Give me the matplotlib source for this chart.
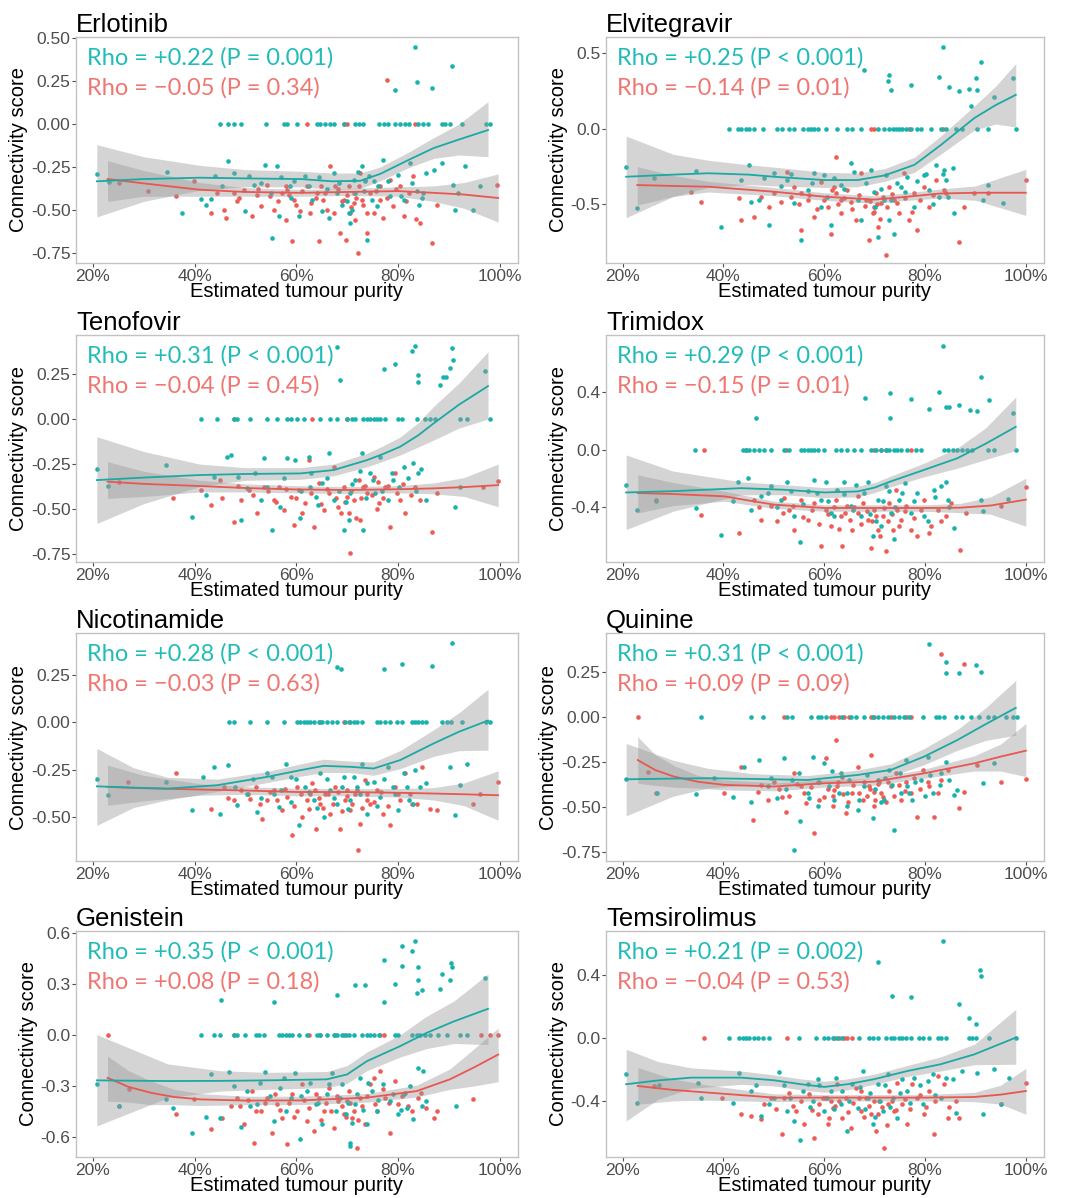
import numpy as np
import matplotlib.pyplot as plt

# ---------------- data ----------------
# points are (purity %, connectivity score); *_zero are purities of points sitting at score 0
erl_teal = [(83.4,0.448),(90.7,0.339),(79.4,0.196),(83.8,0.242),(86.6,0.209),
    (20.8,-0.289),(23.1,-0.339),(34.5,-0.281),(37.6,-0.517),(41.2,-0.436),(42.2,-0.469),(43.2,-0.436),
    (46.5,-0.217),(47.8,-0.285),(50.0,-0.508),(53.8,-0.237),(55.3,-0.663),(56.3,-0.246),(56.6,-0.537),
    (59.5,-0.333),(60.5,-0.537),(61.8,-0.304),(63.1,-0.44),(65.1,-0.508),(66.4,-0.547),(67.4,-0.285),
    (69.0,-0.469),(70.3,-0.517),(70.6,-0.576),(71.6,-0.401),(72.9,-0.246),(73.6,-0.333),(73.9,-0.673),
    (74.9,-0.44),(75.8,-0.479),(77.1,-0.207),(78.5,-0.421),(80.1,-0.295),(81.1,-0.44),(82.4,-0.227),
    (83.7,-0.392),(84.7,-0.43),(85.6,-0.285),(87.0,-0.266),(88.6,-0.227),(90.9,-0.353),(91.2,-0.498),
    (93.1,-0.246),(96.1,-0.362),(94.8,-0.498),(91.9,-0.401),(51.7,-0.353),(58.8,-0.362),(68.0,-0.401),
    (71.3,-0.324),(75.3,-0.333),
    (50.8,-0.30),(53.0,-0.34),(55.0,-0.40),(57.0,-0.31),(59.0,-0.43),(62.5,-0.36),(64.5,-0.31),(66.0,-0.38),
    (68.5,-0.34),(70.0,-0.45),(71.0,-0.50),(72.2,-0.28),(73.4,-0.39),(74.4,-0.30),(76.0,-0.36),(78.0,-0.33),
    (80.6,-0.42),(82.8,-0.34),(84.2,-0.47),(85.0,-0.40),(44.0,-0.30),(45.5,-0.36)]
erl_teal_zero = [45.1,46.5,47.8,49.1,54.0,57.6,58.2,60.2,64.1,64.7,65.7,66.7,67.4,69.3,71.6,72.3,73.2,
    76.2,77.2,78.1,79.4,80.4,81.4,82.1,84.0,85.0,86.0,88.6,89.2,90.2,92.5,97.4,98.1]
erl_red = [(77.8,0.258),
    (25.2,-0.343),(30.8,-0.392),(36.3,-0.421),(39.9,-0.333),(43.2,-0.517),(45.8,-0.498),(46.1,-0.547),
    (47.8,-0.401),(48.4,-0.45),(49.7,-0.382),(51.4,-0.537),(52.3,-0.411),(53.0,-0.479),(54.3,-0.353),
    (55.6,-0.498),(57.2,-0.401),(57.9,-0.556),(59.2,-0.682),(59.5,-0.44),(60.8,-0.508),(62.1,-0.362),
    (62.8,-0.517),(63.8,-0.43),(64.4,-0.682),(65.7,-0.401),(66.7,-0.246),(67.7,-0.362),(68.7,-0.634),
    (69.3,-0.44),(69.7,-0.673),(70.3,-0.362),(70.6,-0.517),(71.3,-0.459),(71.6,-0.556),(72.1,-0.75),
    (72.6,-0.285),(72.9,-0.44),(73.9,-0.634),(74.5,-0.401),(75.2,-0.517),(76.5,-0.362),(77.1,-0.547),
    (78.5,-0.324),(79.1,-0.479),(80.4,-0.362),(81.1,-0.537),(82.1,-0.401),(83.0,-0.304),(84.3,-0.576),
    (86.6,-0.692),(87.6,-0.469),(67.4,-0.517),(64.8,-0.362),(71.3,-0.401),(73.6,-0.324),(58.2,-0.382),
    (76.5,-0.44),(99.5,-0.355),
    (52.5,-0.38),(54.8,-0.42),(56.5,-0.45),(58.5,-0.41),(60.0,-0.47),(61.2,-0.39),(63.0,-0.46),(64.0,-0.40),
    (65.2,-0.44),(66.0,-0.50),(68.2,-0.38),(69.0,-0.45),(70.0,-0.41),(70.8,-0.48),(71.8,-0.43),(72.4,-0.36),
    (73.2,-0.47),(74.0,-0.52),(75.6,-0.39),(77.8,-0.43),(79.6,-0.38),(81.6,-0.45),(83.6,-0.55),(48.8,-0.43),
    (44.5,-0.40),(58.0,-0.36)]
erl_red_zero = [62.1,69.3,70.0,83.4]
# loess fits: (purity, fit, lower, upper)
erl_teal_fit = [(20.8,-0.333,-0.54,-0.12),(30,-0.32,-0.45,-0.19),(41,-0.312,-0.385,-0.24),(50,-0.316,-0.365,-0.265),
    (61,-0.32,-0.365,-0.275),(67,-0.333,-0.38,-0.285),(72.6,-0.33,-0.375,-0.285),(76.5,-0.29,-0.33,-0.25),
    (82,-0.21,-0.255,-0.165),(87,-0.14,-0.2,-0.08),(92,-0.09,-0.18,0.0),(97.7,-0.035,-0.19,0.13)]
erl_red_fit = [(22.9,-0.32,-0.45,-0.213),(30,-0.345,-0.42,-0.27),(41,-0.382,-0.42,-0.34),(50,-0.395,-0.42,-0.37),
    (61,-0.40,-0.42,-0.38),(70,-0.395,-0.415,-0.375),(80,-0.39,-0.42,-0.365),(87,-0.40,-0.45,-0.36),
    (93,-0.41,-0.49,-0.34),(99.7,-0.43,-0.57,-0.29)]

elv_teal = [(83.5,0.54),(67.9,0.389),(72.9,0.356),(72.6,0.312),(73.2,0.257),(77.2,0.29),(82.8,0.341),
    (84.8,0.274),(86.8,0.246),(88.8,0.261),(90.1,0.334),(91.1,0.438),(89.1,0.146),(90.4,0.257),(93.7,0.212),
    (97.4,0.334),
    (20.7,-0.257),(22.8,-0.529),(26.3,-0.33),(34.5,-0.279),(39.5,-0.65),(43.5,-0.341),(45.1,-0.241),
    (45.5,-0.485),(47.1,-0.473),(49.1,-0.639),(50.1,-0.296),(52.7,-0.341),(54.0,-0.496),(55.4,-0.735),
    (56.7,-0.407),(58.0,-0.296),(59.3,-0.518),(60.0,-0.307),(61.3,-0.639),(63.3,-0.374),(65.3,-0.23),
    (66.6,-0.473),(67.3,-0.606),(69.3,-0.274),(69.9,-0.418),(70.6,-0.717),(71.9,-0.473),(72.9,-0.606),
    (73.9,-0.695),(75.2,-0.385),(76.5,-0.319),(77.9,-0.518),(79.8,-0.307),(80.8,-0.407),(82.2,-0.241),
    (83.8,-0.274),(84.1,-0.341),(85.5,-0.263),(85.8,-0.562),(91.4,-0.473),(95.4,-0.496),(92.4,-0.374),
    (82.8,-0.451),
    (48.0,-0.33),(51.5,-0.38),(53.5,-0.30),(57.5,-0.36),(60.5,-0.45),(62.0,-0.33),(64.0,-0.40),(66.0,-0.29),
    (68.2,-0.36),(70.0,-0.52),(71.2,-0.40),(72.2,-0.31),(73.3,-0.47),(74.5,-0.36),(76.0,-0.42),(78.5,-0.35),
    (80.2,-0.30),(81.5,-0.50),(83.5,-0.30),(84.6,-0.45)]
elv_teal_zero = [41.2,42.8,43.5,44.5,45.1,46.1,47.8,50.7,51.7,53.1,54.0,55.7,56.7,57.4,58.0,58.7,60.3,
    62.6,64.6,65.6,67.3,70.6,71.9,72.9,73.6,74.2,74.9,75.5,76.2,77.2,78.5,79.2,81.2,83.1,84.1,86.1,87.4,
    90.4,92.4,98.0]
elv_red = [(62.3,-0.186),
    (33.6,-0.418),(35.5,-0.485),(43.1,-0.462),(43.5,-0.606),(46.1,-0.584),(50.1,-0.429),(51.4,-0.485),
    (52.7,-0.285),(54.0,-0.385),(55.4,-0.672),(56.7,-0.473),(58.0,-0.584),(59.3,-0.352),(60.7,-0.518),
    (61.3,-0.695),(62.3,-0.429),(63.3,-0.562),(64.6,-0.407),(65.3,-0.485),(66.3,-0.606),(67.3,-0.296),
    (68.3,-0.473),(68.9,-0.739),(69.6,-0.562),(70.2,-0.429),(70.6,-0.65),(71.3,-0.496),(72.2,-0.839),
    (72.9,-0.385),(73.9,-0.473),(74.9,-0.562),(75.9,-0.296),(76.9,-0.606),(77.9,-0.429),(78.5,-0.672),
    (79.8,-0.385),(80.8,-0.518),(82.2,-0.341),(84.1,-0.429),(86.8,-0.75),(87.8,-0.518),(89.8,-0.429),
    (92.4,-0.425),(100,-0.341),(55.4,-0.429),(63.3,-0.473),(69.9,-0.518),(62.0,-0.385),
    (53.5,-0.45),(55.0,-0.50),(57.0,-0.44),(58.5,-0.53),(60.0,-0.47),(61.5,-0.41),(62.8,-0.50),(64.0,-0.46),
    (65.5,-0.53),(66.8,-0.44),(68.0,-0.51),(69.0,-0.48),(69.8,-0.55),(70.4,-0.50),(71.0,-0.60),(71.6,-0.45),
    (72.5,-0.52),(73.5,-0.43),(74.5,-0.49),(76.0,-0.46),(77.5,-0.55),(79.0,-0.47),(81.5,-0.44),(83.8,-0.41),
    (47.5,-0.45),(49.0,-0.52)]
elv_red_zero = [69.3,69.9,76.9,83.5]
elv_teal_fit = [(20.7,-0.319,-0.59,-0.05),(30,-0.305,-0.45,-0.17),(37,-0.296,-0.39,-0.21),(45,-0.305,-0.37,-0.24),
    (50,-0.319,-0.38,-0.255),(60,-0.341,-0.39,-0.29),(66.6,-0.341,-0.385,-0.295),(72,-0.31,-0.35,-0.265),
    (77.9,-0.24,-0.29,-0.19),(83.1,-0.11,-0.17,-0.05),(89.8,0.07,-0.01,0.15),(94,0.155,0.03,0.28),
    (98,0.223,0.01,0.43)]
elv_red_fit = [(22.9,-0.374,-0.507,-0.252),(30,-0.38,-0.45,-0.31),(37,-0.385,-0.42,-0.35),(50,-0.418,-0.445,-0.39),
    (60,-0.451,-0.475,-0.425),(70,-0.47,-0.495,-0.445),(76.5,-0.451,-0.475,-0.425),(83,-0.43,-0.46,-0.40),
    (90,-0.425,-0.475,-0.38),(100,-0.425,-0.575,-0.27)]

ten_teal = [(68.0,0.398),(83.4,0.407),(82.7,0.38),(90.7,0.393),(90.9,0.328),(90.2,0.281),(88.9,0.235),
    (88.3,0.189),(84.0,0.244),(84.0,0.207),(77.2,0.276),(79.4,0.306),(68.7,0.217),(97.1,0.269),(89.5,0.231),
    (20.8,-0.28),(22.9,-0.372),(34.4,-0.256),(39.6,-0.543),(42.2,-0.422),(43.8,-0.32),(46.4,-0.209),
    (47.1,-0.2),(49.1,-0.561),(50.4,-0.385),(53.6,-0.218),(55.3,-0.617),(56.9,-0.487),(58.2,-0.218),
    (59.8,-0.228),(60.8,-0.552),(62.5,-0.209),(63.8,-0.431),(65.1,-0.357),(66.4,-0.191),(67.4,-0.45),
    (69.3,-0.617),(70.3,-0.561),(71.6,-0.339),(72.9,-0.191),(73.2,-0.617),(74.5,-0.302),(75.5,-0.413),
    (76.5,-0.209),(78.1,-0.45),(79.1,-0.339),(81.1,-0.265),(83.0,-0.246),(84.0,-0.302),(85.6,-0.45),
    (91.2,-0.487),(92.2,-0.376),(53.0,-0.45),(62.8,-0.376),(70.6,-0.413),
    (48.5,-0.32),(51.8,-0.30),(54.2,-0.38),(57.5,-0.33),(61.0,-0.40),(63.0,-0.30),(64.2,-0.48),(66.0,-0.33),
    (68.5,-0.40),(69.8,-0.46),(71.0,-0.36),(72.5,-0.29),(73.8,-0.44),(75.0,-0.34),(76.8,-0.40),(78.8,-0.30),
    (80.2,-0.38),(82.0,-0.33),(83.5,-0.40),(84.5,-0.28)]
ten_teal_zero = [41.2,44.5,47.8,48.4,51.0,54.3,56.3,58.2,58.9,60.2,61.5,64.7,66.7,68.0,70.0,71.0,71.6,
    73.2,73.9,74.5,75.2,75.8,76.5,77.5,80.1,80.7,83.7,85.3,86.3,87.3,92.2,93.5,98.1]
ten_red = [(25.2,-0.348),(35.7,-0.441),(41.2,-0.394),(43.2,-0.478),(45.1,-0.339),(47.8,-0.57),(49.1,-0.45),
    (50.7,-0.394),(52.3,-0.524),(53.6,-0.376),(55.6,-0.45),(56.6,-0.376),(57.6,-0.506),(59.5,-0.589),
    (60.5,-0.394),(61.8,-0.469),(62.5,-0.228),(63.4,-0.598),(64.4,-0.357),(65.4,-0.506),(66.4,-0.413),
    (67.4,-0.265),(68.3,-0.487),(69.3,-0.376),(70.3,-0.524),(70.5,-0.746),(71.3,-0.45),(72.3,-0.339),
    (72.6,-0.561),(73.9,-0.413),(75.2,-0.32),(76.2,-0.469),(77.5,-0.376),(78.5,-0.598),(79.4,-0.302),
    (80.4,-0.45),(81.4,-0.524),(83.4,-0.376),(84.3,-0.45),(86.7,-0.626),(87.6,-0.413),(99.7,-0.344),
    (96.7,-0.376),(58.9,-0.431),(70.0,-0.431),(73.2,-0.376),
    (51.5,-0.42),(54.5,-0.40),(56.0,-0.46),(58.0,-0.39),(60.0,-0.44),(61.2,-0.52),(63.0,-0.41),(64.8,-0.47),
    (66.0,-0.39),(67.8,-0.44),(68.8,-0.52),(69.6,-0.46),(70.8,-0.40),(71.8,-0.55),(72.8,-0.44),(73.6,-0.37),
    (74.8,-0.42),(76.0,-0.35),(77.0,-0.44),(78.0,-0.37),(79.8,-0.41),(81.0,-0.36),(82.5,-0.42),(45.5,-0.44),
    (48.5,-0.37),(75.8,-0.50)]
ten_red_zero = [47.8,63.1,70.0]
ten_teal_fit = [(20.8,-0.339,-0.58,-0.098),(30,-0.325,-0.47,-0.18),(41,-0.311,-0.375,-0.25),(50,-0.305,-0.34,-0.27),
    (60.8,-0.302,-0.335,-0.27),(67.4,-0.283,-0.315,-0.25),(73.9,-0.228,-0.265,-0.19),(77,-0.195,-0.235,-0.15),
    (80.4,-0.154,-0.2,-0.1),(84,-0.09,-0.155,-0.02),(87,-0.024,-0.117,0.07),(92,0.08,-0.05,0.2),(97.7,0.183,0.0,0.374)]
ten_red_fit = [(22.9,-0.348,-0.441,-0.237),(30,-0.36,-0.43,-0.29),(41,-0.372,-0.405,-0.34),(50,-0.383,-0.405,-0.36),
    (60,-0.391,-0.41,-0.37),(70,-0.394,-0.413,-0.375),(80,-0.39,-0.41,-0.37),(87,-0.385,-0.415,-0.355),
    (93,-0.378,-0.43,-0.325),(99.7,-0.367,-0.487,-0.25)]

tri_teal = [(83.5,0.718),(91.1,0.508),(46.4,0.222),(68.1,0.361),(73.1,0.393),(73.1,0.216),(77.2,0.354),
    (80.7,0.285),(82.7,0.4),(84.1,0.296),(84.8,0.296),(86.8,0.312),(89.0,0.273),(90.4,0.269),(92.7,0.347),
    (97.4,0.255),
    (20.7,-0.246),(22.8,-0.423),(26.6,-0.356),(34.5,-0.407),(39.5,-0.598),(41.8,-0.361),(42.8,-0.223),
    (44.8,-0.2),(45.5,-0.423),(47.4,-0.326),(49.4,-0.257),(51.4,-0.349),(52.7,-0.223),(54.0,-0.465),
    (55.2,-0.644),(56.7,-0.292),(58.0,-0.211),(59.3,-0.349),(60.3,-0.223),(61.3,-0.442),(62.6,-0.28),
    (63.9,-0.223),(65.3,-0.395),(66.3,-0.246),(67.3,-0.465),(68.6,-0.223),(69.6,-0.603),(70.6,-0.349),
    (71.2,-0.534),(72.2,-0.257),(73.2,-0.442),(73.9,-0.626),(74.9,-0.349),(76.0,-0.234),(77.2,-0.442),
    (78.5,-0.303),(80.5,-0.499),(81.8,-0.28),(83.1,-0.257),(84.1,-0.223),(84.5,-0.349),(85.8,-0.545),
    (91.1,-0.349),(91.4,-0.43),(96.4,-0.345),
    (48.8,-0.30),(50.6,-0.40),(53.5,-0.29),(55.8,-0.38),(58.6,-0.30),(60.8,-0.36),(62.0,-0.46),(64.0,-0.31),
    (65.8,-0.42),(67.8,-0.30),(69.0,-0.45),(70.2,-0.50),(71.6,-0.36),(72.8,-0.29),(74.0,-0.40),(75.5,-0.30),
    (77.8,-0.36),(79.8,-0.46),(82.0,-0.33),(84.8,-0.40)]
tri_teal_zero = [34.3,43.8,44.5,45.1,46.1,47.1,48.1,49.4,52.1,53.1,55.4,56.0,56.7,57.4,58.0,58.7,60.0,
    62.3,63.3,64.6,66.0,67.3,69.3,70.2,71.2,72.2,72.9,73.9,74.5,75.2,76.5,78.2,79.2,83.8,84.5,85.5,86.4,
    87.4,88.4,89.4,92.4,93.7,98.0]
tri_red = [(26.6,-0.349),(35.5,-0.453),(43.1,-0.58),(46.1,-0.349),(47.4,-0.488),(49.4,-0.396),(50.7,-0.499),
    (52.1,-0.338),(53.1,-0.419),(54.0,-0.557),(55.4,-0.349),(56.7,-0.488),(58.0,-0.372),(59.3,-0.672),
    (60.3,-0.419),(61.3,-0.534),(62.3,-0.349),(63.3,-0.465),(63.6,-0.672),(64.6,-0.396),(65.6,-0.557),
    (66.6,-0.442),(67.6,-0.372),(68.6,-0.488),(69.3,-0.684),(69.9,-0.419),(70.6,-0.557),(71.6,-0.465),
    (72.2,-0.707),(72.9,-0.372),(73.6,-0.557),(74.2,-0.28),(75.2,-0.488),(76.2,-0.396),(77.2,-0.557),
    (78.5,-0.603),(79.8,-0.349),(81.2,-0.534),(82.5,-0.419),(84.1,-0.465),(85.1,-0.372),(86.9,-0.7),
    (88.1,-0.442),(95.0,-0.396),(100,-0.262),(66.6,-0.326),(74.5,-0.419),
    (51.8,-0.44),(53.8,-0.39),(55.8,-0.47),(57.5,-0.42),(59.0,-0.52),(60.8,-0.45),(62.0,-0.40),(63.0,-0.55),
    (64.2,-0.44),(65.2,-0.49),(66.0,-0.40),(67.2,-0.52),(68.4,-0.43),(69.4,-0.50),(70.2,-0.46),(71.0,-0.60),
    (71.8,-0.41),(72.6,-0.50),(73.4,-0.45),(74.8,-0.53),(76.0,-0.43),(77.8,-0.48),(79.2,-0.42),(80.8,-0.58),
    (83.2,-0.50),(47.0,-0.40)]
tri_red_zero = [36.2,44.5,52.4,69.9,71.2,72.2,77.2]
tri_teal_fit = [(20.7,-0.299,-0.557,-0.038),(30,-0.29,-0.43,-0.15),(43.5,-0.269,-0.315,-0.225),(52,-0.28,-0.315,-0.245),
    (60,-0.299,-0.335,-0.265),(66.6,-0.292,-0.33,-0.255),(70,-0.265,-0.3,-0.23),(73.2,-0.222,-0.26,-0.185),
    (79.8,-0.142,-0.19,-0.095),(86.4,-0.061,-0.13,0.01),(92,0.04,-0.07,0.15),(98,0.158,-0.007,0.365)]
tri_red_fit = [(23,-0.303,-0.442,-0.176),(30,-0.31,-0.39,-0.23),(40.2,-0.326,-0.36,-0.29),(45,-0.355,-0.385,-0.325),
    (50.1,-0.384,-0.41,-0.36),(60,-0.407,-0.43,-0.385),(70,-0.407,-0.43,-0.385),(80,-0.407,-0.43,-0.385),
    (87,-0.405,-0.44,-0.375),(93,-0.39,-0.45,-0.33),(100,-0.349,-0.534,-0.2)]

nic_teal = [(90.7,0.418),(68.0,0.294),(68.8,0.28),(77.2,0.282),(80.7,0.308),(86.6,0.298),
    (20.8,-0.297),(22.9,-0.385),(34.4,-0.315),(39.6,-0.465),(41.6,-0.288),(43.8,-0.235),(45.1,-0.482),
    (46.5,-0.226),(48.4,-0.438),(50.4,-0.376),(52.3,-0.474),(54.3,-0.27),(55.6,-0.376),(56.6,-0.447),
    (57.9,-0.218),(58.9,-0.288),(60.5,-0.544),(61.8,-0.341),(63.4,-0.412),(64.7,-0.27),(65.4,-0.5),
    (66.7,-0.359),(68.0,-0.429),(69.3,-0.288),(70.6,-0.412),(71.9,-0.341),(72.9,-0.218),(73.9,-0.482),
    (75.2,-0.315),(76.5,-0.394),(78.1,-0.235),(79.1,-0.341),(80.1,-0.465),(81.1,-0.27),(82.1,-0.412),
    (83.4,-0.253),(84.3,-0.341),(85.6,-0.323),(90.2,-0.235),(91.2,-0.491),(92.2,-0.332),(93.5,-0.221),
    (48.0,-0.34),(51.5,-0.30),(53.0,-0.40),(55.2,-0.29),(57.0,-0.36),(59.0,-0.42),(60.0,-0.30),(62.5,-0.37),
    (64.0,-0.45),(66.0,-0.30),(67.5,-0.40),(69.0,-0.34),(70.2,-0.46),(71.3,-0.29),(72.5,-0.38),(74.0,-0.32),
    (75.8,-0.44),(77.2,-0.30),(79.5,-0.38),(81.8,-0.34),(83.0,-0.43)]
nic_teal_zero = [46.8,47.8,51.0,54.3,57.6,60.2,60.8,61.5,62.1,62.8,63.4,64.4,65.1,66.0,67.0,68.0,69.6,
    70.6,71.3,71.9,72.9,75.8,76.5,77.5,78.5,79.8,80.7,82.7,83.4,84.0,84.7,85.6,88.6,89.6,90.5,92.5,97.4,98.1]
nic_red = [(26.9,-0.315),(36.3,-0.267),(43.2,-0.456),(45.8,-0.341),(47.8,-0.412),(49.1,-0.359),(51.0,-0.403),
    (52.0,-0.341),(53.3,-0.509),(54.3,-0.412),(55.6,-0.359),(57.2,-0.465),(58.2,-0.394),(59.2,-0.597),
    (60.2,-0.341),(61.2,-0.5),(62.1,-0.412),(63.1,-0.323),(63.8,-0.562),(64.7,-0.429),(65.7,-0.376),
    (66.7,-0.482),(67.7,-0.341),(68.7,-0.562),(69.6,-0.412),(70.6,-0.465),(71.6,-0.376),(72.1,-0.676),
    (72.6,-0.535),(73.6,-0.306),(74.5,-0.429),(75.8,-0.359),(77.1,-0.482),(78.5,-0.544),(79.4,-0.341),
    (80.4,-0.412),(81.4,-0.27),(82.4,-0.376),(83.7,-0.429),(84.7,-0.235),(86.3,-0.456),(87.6,-0.465),
    (99.7,-0.315),(94.8,-0.429),(96.1,-0.376),(62.8,-0.376),(69.9,-0.359),(73.9,-0.412),
    (50.5,-0.38),(52.8,-0.43),(54.8,-0.37),(56.2,-0.41),(57.8,-0.35),(59.5,-0.44),(61.0,-0.38),(62.5,-0.46),
    (63.6,-0.36),(64.4,-0.40),(65.2,-0.45),(66.2,-0.38),(67.2,-0.43),(68.2,-0.37),(69.0,-0.47),(70.0,-0.39),
    (71.0,-0.43),(72.0,-0.36),(73.0,-0.45),(74.0,-0.38),(75.2,-0.42),(76.6,-0.37),(78.0,-0.44),(80.0,-0.38),
    (82.8,-0.43),(46.5,-0.40)]
nic_red_zero = [64.7,69.3,70.3]
nic_teal_fit = [(20.8,-0.338,-0.544,-0.138),(28,-0.345,-0.45,-0.24),(34.7,-0.35,-0.41,-0.29),(44.5,-0.332,-0.365,-0.30),
    (54.3,-0.288,-0.318,-0.26),(60.8,-0.253,-0.285,-0.22),(65.4,-0.23,-0.265,-0.195),(70.6,-0.235,-0.265,-0.205),
    (75.2,-0.244,-0.28,-0.21),(80.4,-0.2,-0.245,-0.15),(87,-0.112,-0.18,-0.04),(92,-0.05,-0.15,0.05),
    (97.7,0.009,-0.147,0.174)]
nic_red_fit = [(22.9,-0.341,-0.438,-0.226),(30,-0.348,-0.415,-0.28),(41.2,-0.355,-0.385,-0.325),(50,-0.36,-0.38,-0.34),
    (60,-0.368,-0.388,-0.348),(70,-0.368,-0.388,-0.35),(80,-0.372,-0.395,-0.35),(87,-0.376,-0.41,-0.345),
    (93,-0.38,-0.44,-0.32),(99.7,-0.385,-0.517,-0.256)]

qui_teal = [(80.8,0.407),(84.1,0.305),(84.1,0.244),(86.8,0.244),(90.1,0.287),(91.1,0.25),
    (20.7,-0.346),(26.9,-0.423),(34.5,-0.427),(38.2,-0.34),(41.8,-0.442),(44.1,-0.276),(45.5,-0.47),
    (47.1,-0.239),(48.8,-0.386),(50.7,-0.451),(52.1,-0.23),(53.7,-0.35),(55.2,-0.58),(54.0,-0.737),
    (56.7,-0.423),(57.7,-0.221),(58.7,-0.497),(60.0,-0.257),(61.0,-0.386),(62.0,-0.46),(63.3,-0.313),
    (64.6,-0.423),(66.6,-0.516),(67.9,-0.386),(69.6,-0.562),(70.6,-0.35),(71.9,-0.46),(72.9,-0.294),
    (73.9,-0.627),(75.2,-0.423),(76.2,-0.239),(77.5,-0.46),(79.2,-0.35),(80.5,-0.221),(81.5,-0.423),
    (83.1,-0.313),(84.1,-0.248),(84.8,-0.35),(85.8,-0.432),(86.4,-0.405),(91.4,-0.364),(93.7,-0.257),
    (64.6,-0.497),(76.5,-0.386),
    (49.5,-0.34),(52.5,-0.40),(55.0,-0.31),(57.0,-0.45),(59.0,-0.36),(61.5,-0.30),(63.0,-0.42),(65.0,-0.35),
    (66.8,-0.46),(68.5,-0.32),(70.0,-0.40),(71.2,-0.47),(72.0,-0.34),(73.5,-0.38),(75.0,-0.31),(76.8,-0.42),
    (78.0,-0.36),(80.0,-0.44),(81.0,-0.32),(83.0,-0.38)]
qui_teal_zero = [35.5,45.5,47.8,52.7,53.7,57.4,58.7,59.3,60.3,63.6,65.3,66.3,67.9,69.6,70.6,71.6,72.6,
    73.9,74.9,75.9,76.9,79.5,82.1,82.8,83.8,86.1,87.4,89.1,90.7,92.4,93.7,96.0,97.4,98.3]
qui_red = [(83.1,0.351),(87.8,0.292),(62.3,-0.128),
    (25.0,-0.303),(26.6,-0.423),(40.2,-0.423),(43.5,-0.276),(45.8,-0.571),(46.8,-0.414),(48.8,-0.46),
    (50.1,-0.359),(51.7,-0.442),(52.4,-0.525),(54.0,-0.313),(55.4,-0.386),(56.4,-0.479),(58.0,-0.645),
    (58.7,-0.359),(60.0,-0.442),(60.3,-0.23),(61.7,-0.497),(62.6,-0.386),(63.6,-0.331),(64.3,-0.534),
    (65.6,-0.423),(66.6,-0.276),(67.6,-0.46),(68.9,-0.386),(69.3,-0.211),(69.9,-0.497),(70.9,-0.359),
    (71.6,-0.442),(72.2,-0.47),(73.2,-0.386),(74.2,-0.313),(75.2,-0.46),(76.2,-0.359),(77.2,-0.423),
    (78.5,-0.553),(79.5,-0.294),(80.8,-0.386),(81.8,-0.553),(83.1,-0.35),(84.5,-0.294),(86.8,-0.506),
    (87.8,-0.414),(95.0,-0.359),(100,-0.344),(90.4,-0.267),(69.9,-0.414),(62.0,-0.405),
    (51.0,-0.40),(53.0,-0.44),(54.6,-0.37),(56.0,-0.42),(57.4,-0.39),(59.0,-0.46),(60.8,-0.40),(61.8,-0.44),
    (62.8,-0.36),(63.8,-0.43),(64.8,-0.47),(65.8,-0.38),(66.8,-0.42),(67.8,-0.36),(68.4,-0.44),(69.0,-0.40),
    (70.0,-0.46),(70.6,-0.37),(71.2,-0.42),(72.6,-0.36),(73.8,-0.44),(74.8,-0.38),(76.0,-0.41),(77.8,-0.34),
    (79.0,-0.40),(80.5,-0.36),(82.5,-0.42),(47.5,-0.38)]
qui_red_zero = [23.0,52.1,61.3,62.0,63.0,64.0,65.0,69.3,69.9,73.2,76.2,77.2]
qui_teal_fit = [(20.7,-0.346,-0.549,-0.147),(30,-0.342,-0.44,-0.24),(36.9,-0.34,-0.395,-0.285),(46,-0.344,-0.375,-0.315),
    (56.7,-0.35,-0.375,-0.325),(66.6,-0.322,-0.35,-0.295),(73.2,-0.294,-0.33,-0.26),(79.8,-0.22,-0.265,-0.175),
    (86.4,-0.128,-0.185,-0.07),(92,-0.04,-0.13,0.05),(98,0.051,-0.101,0.204)]
qui_red_fit = [(23,-0.239,-0.368,-0.11),(26.5,-0.295,-0.38,-0.21),(30.2,-0.331,-0.39,-0.27),(35,-0.36,-0.395,-0.325),
    (40.2,-0.377,-0.405,-0.35),(50.1,-0.386,-0.41,-0.365),(60,-0.368,-0.39,-0.35),(69.9,-0.359,-0.378,-0.34),
    (79.8,-0.313,-0.34,-0.29),(89.8,-0.257,-0.3,-0.215),(95,-0.22,-0.3,-0.15),(100,-0.187,-0.331,-0.036)]

gen_teal = [(80.7,0.522),(82.7,0.492),(83.4,0.551),(77.2,0.443),(80.7,0.404),(84.0,0.398),(84.0,0.326),
    (79.4,0.3),(71.6,0.297),(73.6,0.297),(68.1,0.234),(77.2,0.195),(55.7,0.195),(45.3,0.205),(83.7,0.248),
    (84.7,0.267),(88.6,0.359),(90.5,0.424),(90.7,0.398),(90.2,0.326),(88.3,0.273),(97.1,0.336),
    (20.8,-0.287),(25.2,-0.418),(34.4,-0.379),(35.7,-0.428),(39.6,-0.575),(42.2,-0.481),(43.2,-0.228),
    (45.1,-0.487),(46.8,-0.216),(49.1,-0.541),(50.4,-0.33),(52.3,-0.408),(53.9,-0.216),(55.6,-0.506),
    (57.6,-0.252),(58.9,-0.369),(59.8,-0.222),(60.8,-0.614),(62.1,-0.33),(63.8,-0.408),(65.1,-0.526),
    (66.4,-0.291),(67.0,-0.222),(68.7,-0.369),(69.7,-0.467),(70.6,-0.633),(70.6,-0.653),(71.6,-0.408),
    (72.6,-0.252),(73.9,-0.526),(74.9,-0.33),(75.8,-0.447),(77.1,-0.291),(78.5,-0.389),(80.1,-0.467),
    (81.1,-0.349),(81.7,-0.428),(83.0,-0.496),(84.0,-0.193),(85.0,-0.212),(85.6,-0.389),(84.7,-0.418),
    (91.5,-0.418),
    (47.8,-0.30),(51.0,-0.42),(52.8,-0.28),(54.8,-0.36),(56.8,-0.31),(58.0,-0.45),(61.0,-0.36),(62.8,-0.28),
    (64.2,-0.40),(66.0,-0.35),(67.8,-0.45),(69.0,-0.29),(70.2,-0.40),(71.0,-0.52),(72.0,-0.35),(73.2,-0.44),
    (74.2,-0.28),(76.0,-0.38),(79.0,-0.35),(80.6,-0.44),(82.4,-0.30)]
gen_teal_zero = [41.2,43.8,45.1,47.8,48.4,50.0,52.0,52.7,53.6,56.6,57.2,57.9,58.5,59.2,60.5,62.1,64.1,
    64.7,66.0,67.4,68.0,69.0,69.7,70.3,71.3,72.9,73.9,74.5,75.2,76.2,79.4,80.1,82.7,83.7,84.3,85.3,86.3,
    87.9,89.6,92.2,93.5]
gen_red = [(25.2,-0.418),(27.2,-0.32),(36.3,-0.467),(39.9,-0.379),(43.2,-0.555),(45.5,-0.487),(47.1,-0.418),
    (48.4,-0.369),(49.7,-0.526),(51.4,-0.33),(51.7,-0.633),(53.0,-0.447),(54.3,-0.369),(55.3,-0.575),
    (56.3,-0.408),(57.2,-0.487),(58.2,-0.643),(59.2,-0.349),(60.2,-0.447),(61.2,-0.291),(62.1,-0.506),
    (63.4,-0.565),(64.4,-0.369),(65.4,-0.447),(66.4,-0.31),(67.4,-0.545),(68.3,-0.389),(69.3,-0.467),
    (70.3,-0.33),(71.0,-0.487),(72.0,-0.663),(72.6,-0.369),(73.6,-0.526),(74.5,-0.291),(75.5,-0.408),
    (76.5,-0.212),(77.5,-0.369),(78.5,-0.575),(79.4,-0.271),(80.1,-0.408),(81.4,-0.34),(82.7,-0.447),
    (84.0,-0.369),(85.6,-0.428),(87.0,-0.487),(87.6,-0.447),(94.8,-0.379),(75.2,-0.252),(70.0,-0.389),
    (49.0,-0.42),(50.5,-0.38),(52.0,-0.45),(53.8,-0.40),(55.8,-0.35),(56.8,-0.44),(58.6,-0.40),(59.6,-0.48),
    (61.6,-0.38),(62.6,-0.43),(63.8,-0.35),(64.8,-0.50),(65.8,-0.40),(66.8,-0.45),(68.0,-0.36),(69.0,-0.42),
    (69.8,-0.48),(70.6,-0.40),(71.4,-0.45),(72.2,-0.50),(73.0,-0.42),(74.0,-0.36),(75.8,-0.45),(77.0,-0.32),
    (78.2,-0.40),(80.8,-0.36),(82.0,-0.42),(84.6,-0.34)]
gen_red_zero = [22.9,47.8,62.5,64.7,67.7,69.3,76.5,77.2,96.4,98.1,99.7]
gen_teal_fit = [(20.8,-0.267,-0.535,0.002),(34.7,-0.271,-0.37,-0.17),(45,-0.27,-0.33,-0.21),(54.3,-0.267,-0.32,-0.22),
    (66,-0.261,-0.31,-0.215),(70,-0.232,-0.285,-0.18),(73.9,-0.154,-0.21,-0.1),(80.4,-0.066,-0.13,0.0),
    (85.6,0.012,-0.08,0.11),(91,0.08,-0.05,0.2),(97.7,0.154,-0.056,0.359)]
gen_red_fit = [(22.9,-0.252,-0.389,-0.124),(27,-0.305,-0.395,-0.21),(31.4,-0.34,-0.41,-0.27),(36,-0.365,-0.41,-0.32),
    (41.2,-0.379,-0.415,-0.345),(50,-0.386,-0.41,-0.36),(60.8,-0.385,-0.41,-0.36),(73.9,-0.369,-0.395,-0.345),
    (83.7,-0.33,-0.365,-0.295),(90.2,-0.261,-0.32,-0.2),(95,-0.19,-0.3,-0.08),(99.7,-0.115,-0.275,0.041)]

tem_teal = [(83.5,0.616),(70.7,0.485),(73.4,0.267),(77.2,0.26),(91.0,0.43),(91.1,0.394),(86.8,0.214),
    (88.8,0.129),(90.1,0.091),
    (20.7,-0.231),(22.8,-0.411),(27.3,-0.298),(34.9,-0.284),(35.5,-0.379),(41.8,-0.411),(43.1,-0.22),
    (45.5,-0.337),(47.4,-0.495),(50.1,-0.379),(51.1,-0.214),(52.7,-0.464),(54.0,-0.527),(55.2,-0.65),
    (56.7,-0.294),(57.7,-0.4),(58.7,-0.262),(60.0,-0.464),(61.3,-0.337),(62.3,-0.252),(63.3,-0.421),
    (64.6,-0.59),(65.6,-0.294),(66.6,-0.442),(67.6,-0.21),(68.6,-0.379),(69.6,-0.548),(70.6,-0.294),
    (71.6,-0.464),(72.6,-0.231),(73.6,-0.379),(74.5,-0.506),(75.5,-0.262),(76.5,-0.337),(77.9,-0.252),
    (79.5,-0.421),(80.5,-0.273),(81.5,-0.231),(83.1,-0.379),(84.1,-0.252),(85.5,-0.262),(86.1,-0.474),
    (87.4,-0.21),(90.4,-0.22),(91.4,-0.48),(93.7,-0.199),(96.7,-0.252),(95.0,-0.421),
    (46.5,-0.30),(49.0,-0.42),(52.0,-0.30),(53.2,-0.38),(55.8,-0.34),(57.2,-0.44),(59.0,-0.30),(60.5,-0.38),
    (62.0,-0.45),(63.5,-0.34),(65.0,-0.40),(67.0,-0.31),(68.0,-0.45),(69.0,-0.35),(70.0,-0.50),(71.0,-0.40),
    (72.0,-0.30),(73.0,-0.44),(75.0,-0.35),(77.0,-0.41),(79.0,-0.30),(82.0,-0.36)]
tem_teal_zero = [41.2,43.1,43.8,44.5,45.1,46.1,46.8,47.8,49.1,55.0,58.3,60.0,60.7,61.7,62.6,63.6,66.9,
    68.9,69.6,70.6,72.2,73.2,73.9,74.9,75.5,76.2,77.2,78.8,79.5,80.8,82.5,83.1,84.1,88.8,89.4,90.1,92.7,98.0]
tem_red = [(26.3,-0.305),(39.8,-0.379),(43.5,-0.485),(45.5,-0.495),(47.4,-0.516),(49.4,-0.379),(51.7,-0.612),
    (53.1,-0.347),(54.4,-0.464),(56.0,-0.548),(57.0,-0.358),(58.0,-0.633),(58.7,-0.485),(59.7,-0.379),
    (60.7,-0.548),(61.7,-0.442),(62.6,-0.294),(63.6,-0.506),(64.3,-0.379),(65.3,-0.569),(66.3,-0.315),
    (67.3,-0.464),(68.3,-0.379),(69.3,-0.485),(70.2,-0.59),(70.9,-0.4),(71.9,-0.696),(72.9,-0.337),
    (73.9,-0.464),(74.5,-0.284),(75.5,-0.421),(76.5,-0.548),(77.5,-0.294),(78.5,-0.379),(79.8,-0.485),
    (80.8,-0.337),(81.8,-0.612),(82.5,-0.241),(83.8,-0.294),(84.5,-0.506),(86.1,-0.4),(86.8,-0.506),
    (100,-0.284),(95.0,-0.421),(67.3,-0.337),(72.6,-0.421),(61.3,-0.4),
    (48.0,-0.42),(50.5,-0.45),(52.0,-0.38),(53.8,-0.43),(55.4,-0.40),(57.5,-0.46),(59.0,-0.42),(60.2,-0.38),
    (61.0,-0.51),(62.2,-0.43),(63.0,-0.40),(64.8,-0.47),(65.8,-0.41),(66.8,-0.38),(67.8,-0.50),(68.8,-0.43),
    (69.8,-0.40),(70.6,-0.48),(71.4,-0.44),(72.4,-0.55),(73.4,-0.40),(74.2,-0.46),(76.0,-0.39),(77.0,-0.45),
    (79.0,-0.36),(80.2,-0.44),(82.0,-0.40),(84.8,-0.44)]
tem_red_zero = [36.2,52.7,62.0,63.0,64.0,64.6,65.6]
tem_teal_fit = [(20.7,-0.294,-0.527,-0.072),(27,-0.27,-0.39,-0.15),(33.6,-0.252,-0.32,-0.19),(43.5,-0.252,-0.295,-0.21),
    (50.1,-0.269,-0.305,-0.235),(55.4,-0.294,-0.33,-0.26),(60,-0.311,-0.345,-0.275),(64.6,-0.294,-0.33,-0.26),
    (69.9,-0.262,-0.295,-0.23),(76.5,-0.21,-0.245,-0.175),(83.1,-0.167,-0.21,-0.12),(89.8,-0.104,-0.17,-0.04),
    (98,0.002,-0.167,0.182)]
tem_red_fit = [(23,-0.305,-0.421,-0.188),(30,-0.33,-0.4,-0.26),(36.9,-0.347,-0.395,-0.3),(50.1,-0.379,-0.405,-0.355),
    (60,-0.379,-0.4,-0.36),(70,-0.379,-0.4,-0.36),(80,-0.379,-0.4,-0.36),(89.8,-0.375,-0.405,-0.345),
    (95,-0.36,-0.42,-0.3),(100,-0.337,-0.485,-0.193)]

titles = ["Erlotinib", "Elvitegravir", "Tenofovir", "Trimidox",
          "Nicotinamide", "Quinine", "Genistein", "Temsirolimus"]
rho_teal = ["Rho = +0.22 (P = 0.001)", "Rho = +0.25 (P < 0.001)", "Rho = +0.31 (P < 0.001)",
            "Rho = +0.29 (P < 0.001)", "Rho = +0.28 (P < 0.001)", "Rho = +0.31 (P < 0.001)",
            "Rho = +0.35 (P < 0.001)", "Rho = +0.21 (P = 0.002)"]
rho_red = ["Rho = \u22120.05 (P = 0.34)", "Rho = \u22120.14 (P = 0.01)", "Rho = \u22120.04 (P = 0.45)",
           "Rho = \u22120.15 (P = 0.01)", "Rho = \u22120.03 (P = 0.63)", "Rho = +0.09 (P = 0.09)",
           "Rho = +0.08 (P = 0.18)", "Rho = \u22120.04 (P = 0.53)"]
x_ticks = [20, 40, 60, 80, 100]
x_ticklabels = ["20%", "40%", "60%", "80%", "100%"]

# ---------------- style ----------------
TEAL_PT, RED_PT = "#19b3ae", "#ee5c56"
TEAL_LN, RED_LN = "#1aa9a4", "#ea5650"
TEAL_TX, RED_TX = "#22bcb8", "#f07672"
plt.rcParams['font.family'] = ['Liberation Sans', 'DejaVu Sans']

panels = [
    (erl_teal, erl_teal_zero, erl_red, erl_red_zero, erl_teal_fit, erl_red_fit, (-0.808, 0.506), [0.5, 0.25, 0, -0.25, -0.5, -0.75], "%.2f"),
    (elv_teal, elv_teal_zero, elv_red, elv_red_zero, elv_teal_fit, elv_red_fit, (-0.89, 0.606), [0.5, 0, -0.5], "%.1f"),
    (ten_teal, ten_teal_zero, ten_red, ten_red_zero, ten_teal_fit, ten_red_fit, (-0.794, 0.467), [0.25, 0, -0.25, -0.5, -0.75], "%.2f"),
    (tri_teal, tri_teal_zero, tri_red, tri_red_zero, tri_teal_fit, tri_red_fit, (-0.783, 0.797), [0.4, 0, -0.4], "%.1f"),
    (nic_teal, nic_teal_zero, nic_red, nic_red_zero, nic_teal_fit, nic_red_fit, (-0.732, 0.471), [0.25, 0, -0.25, -0.5], "%.2f"),
    (qui_teal, qui_teal_zero, qui_red, qui_red_zero, qui_teal_fit, qui_red_fit, (-0.80, 0.467), [0.25, 0, -0.25, -0.5, -0.75], "%.2f"),
    (gen_teal, gen_teal_zero, gen_red, gen_red_zero, gen_teal_fit, gen_red_fit, (-0.718, 0.612), [0.6, 0.3, 0, -0.3, -0.6], "%.1f"),
    (tem_teal, tem_teal_zero, tem_red, tem_red_zero, tem_teal_fit, tem_red_fit, (-0.756, 0.679), [0.4, 0, -0.4], "%.1f"),
]

fig = plt.figure(figsize=(10.84, 11.98), dpi=100)
col_left = [76 / 1084, 606 / 1084]
col_w = [442 / 1084, 438 / 1084]
row_px = [(37, 263), (335, 562), (633, 861), (931, 1157)]

for i, (tp, tz, rp, rz, tfit, rfit, ylim, yticks, yfmt) in enumerate(panels):
    r, c = divmod(i, 2)
    top, bot = row_px[r]
    ax = fig.add_axes([col_left[c], 1 - bot / 1198, col_w[c], (bot - top) / 1198])

    tp = np.array(tp); rp = np.array(rp)
    ax.scatter(rp[:, 0], rp[:, 1], s=11, color=RED_PT, lw=0, zorder=2)
    ax.scatter(rz, np.zeros(len(rz)), s=11, color=RED_PT, lw=0, zorder=2)
    ax.scatter(tp[:, 0], tp[:, 1], s=11, color=TEAL_PT, lw=0, zorder=2)
    ax.scatter(tz, np.zeros(len(tz)), s=11, color=TEAL_PT, lw=0, zorder=2)

    for fit, col in ((rfit, RED_LN), (tfit, TEAL_LN)):
        f = np.array(fit)
        ax.fill_between(f[:, 0], f[:, 2], f[:, 3], color="#999999", alpha=0.42, lw=0, zorder=3)
        ax.plot(f[:, 0], f[:, 1], color=col, lw=1.3, zorder=4)

    ax.set_xlim(16.7, 103.6)
    ax.set_ylim(*ylim)
    ax.set_xticks(x_ticks)
    ax.set_xticklabels(x_ticklabels)
    ax.set_yticks(yticks)
    ax.set_yticklabels([yfmt % v if abs(v) > 1e-9 else yfmt % 0 for v in yticks])
    ax.tick_params(labelsize=12.5, colors="#4d4d4d", length=3, width=0.8, pad=1)
    for sp in ax.spines.values():
        sp.set_color("#c2c2c2")
        sp.set_linewidth(1.0)
    ax.set_xlabel("Estimated tumour purity", fontsize=14.5, labelpad=-1)
    ax.set_ylabel("Connectivity score", fontsize=14.5, labelpad=2)
    ax.set_title(titles[i], loc="left", fontsize=18.5, pad=3)

    ax.annotate(rho_teal[i], (0, 1), xycoords="axes fraction", xytext=(11, -28),
                textcoords="offset pixels", fontsize=17, color=TEAL_TX,
                family=["Lato", "DejaVu Sans"], va="baseline", zorder=6)
    ax.annotate(rho_red[i], (0, 1), xycoords="axes fraction", xytext=(11, -58),
                textcoords="offset pixels", fontsize=17, color=RED_TX,
                family=["Lato", "DejaVu Sans"], va="baseline", zorder=6)

fig.savefig("out.png", dpi=100)
